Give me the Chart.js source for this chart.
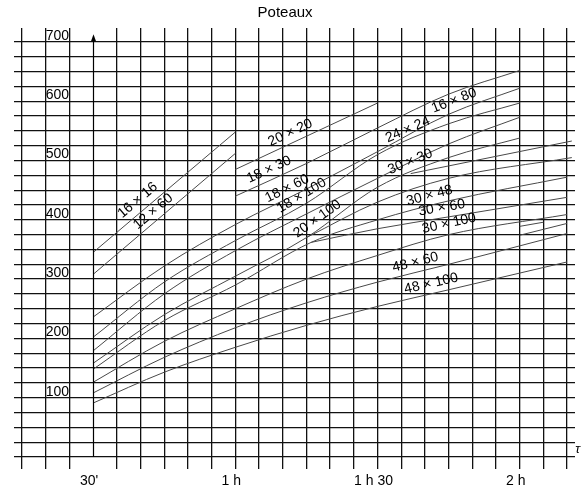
<!DOCTYPE html>
<html><head><meta charset="utf-8">
<script src="https://cdn.jsdelivr.net/npm/chart.js@4/dist/chart.umd.min.js"></script>
<style>html,body{margin:0;padding:0;background:#fff}#wrap{width:581px;height:490px}</style>
</head><body><div id="wrap"><canvas id="c" width="581" height="490"></canvas></div>
<script>
// ---- data (time in minutes) ----
const timeTicks = [30, 60, 90, 120];
const timeTickLabels = ["30'", "1 h", "1 h 30", "2 h"];
const loadTickLabels = [100, 200, 300, 400, 500, 600, 700];

const t_16x16 = [30, 60];                          const v_16x16 = [345, 548];
const t_12x60 = [30, 60];                          const v_12x60 = [308, 512];
const t_20x20 = [60, 90];                          const v_20x20 = [485, 597];
const t_18x30 = [60, 75, 90, 105, 120];            const v_18x30 = [440, 495, 555, 612, 652];
const t_16x80 = [30, 45, 60, 75, 90, 105, 120];    const v_16x80 = [236, 322, 392, 452, 515, 578, 622];
const t_24x24 = [30, 45, 60, 75, 90, 105, 120];    const v_24x24 = [202, 295, 365, 428, 510, 562, 597];
const t_mid = [30, 45, 60, 75, 90, 105, 120];      const v_mid = [179, 275, 348, 410, 470, 528, 573];
const t_30x30 = [30, 45, 60, 75, 90, 105, 120];    const v_30x30 = [158, 240, 305, 370, 455, 505, 538];
const t_30x30b = [97, 131];                        const v_30x30b = [478, 533];
const t_branch = [75, 90, 105, 131];               const v_branch = [370, 430, 470, 505];
const t_30x48 = [30, 45, 60, 76, 90, 105, 130];    const v_30x48 = [148, 230, 290, 362, 400, 432, 472];
const t_30x60 = [76, 90, 105, 130];               const v_30x60 = [362, 385, 405, 438];
const t_30x100 = [30, 45, 60, 75, 90, 105, 130];   const v_30x100 = [126, 195, 250, 300, 340, 375, 409];
const t_48x60 = [30, 45, 60, 75, 90, 105, 130];    const v_48x60 = [108, 168, 218, 260, 295, 325, 377];
const t_48x100 = [30, 45, 60, 75, 90, 105, 130];   const v_48x100 = [91, 143, 185, 222, 254, 282, 329];
const t_short1 = [120, 125];                       const v_short1 = [389, 396];
const t_short2 = [120, 130];                       const v_short2 = [374, 394];

const series = [
  ["16 × 16", t_16x16, v_16x16], ["12 × 60", t_12x60, v_12x60], ["20 × 20", t_20x20, v_20x20],
  ["18 × 30", t_18x30, v_18x30], ["16 × 80", t_16x80, v_16x80], ["24 × 24", t_24x24, v_24x24],
  ["mid", t_mid, v_mid], ["30 × 30", t_30x30, v_30x30], ["30 × 30 b", t_30x30b, v_30x30b],
  ["branch", t_branch, v_branch], ["30 × 48", t_30x48, v_30x48], ["30 × 60", t_30x60, v_30x60],
  ["30 × 100", t_30x100, v_30x100], ["48 × 60", t_48x60, v_48x60], ["48 × 100", t_48x100, v_48x100],
  ["short 1", t_short1, v_short1], ["short 2", t_short2, v_short2]
];
// label placement: [text, series index, time along curve, distance above the curve]
const labelPlacement = [
  ["16 × 16", 0, 40.9, 11], ["12 × 60", 1, 43.9, 9], ["20 × 20", 2, 72.5, 10], ["18 × 30", 3, 68, 10],
  ["18 × 60", 4, 71.8, 9], ["18 × 100", 5, 75, 9], ["20 × 100", 7, 78.4, 9], ["16 × 80", 4, 107, 11],
  ["24 × 24", 5, 97.3, 11], ["30 × 30", 7, 97.8, 11], ["30 × 48", 10, 101.5, 10], ["30 × 60", 11, 103.9, 10],
  ["30 × 100", 12, 105.6, 11], ["48 × 60", 13, 98.5, 10], ["48 × 100", 14, 101.8, 10]
];

const datasets = series.map(([name, t, v]) => ({
  label: name,
  data: t.map((x, i) => ({x, y: v[i]})),
  borderColor: '#484848', borderWidth: 1, pointRadius: 0, fill: false, cubicInterpolationMode: 'monotone'
}));

const FONT = '"Liberation Sans", Arial, Helvetica, sans-serif';

function valueAt(ts, vs, t) {
  let k = 0; while (k < ts.length - 2 && t > ts[k + 1]) k++;
  const f = (t - ts[k]) / (ts[k + 1] - ts[k]);
  return vs[k] + f * (vs[k + 1] - vs[k]);
}

const deco = {
  id: 'deco',
  afterDatasetsDraw(chart) {
    const ctx = chart.ctx, xs = chart.scales.x, ys = chart.scales.y;
    ctx.save();
    // y axis with arrow at 30'
    const ax = Math.round(xs.getPixelForValue(30)) + 0.5;
    const yb = ys.getPixelForValue(0), yt = ys.getPixelForValue(713);
    ctx.strokeStyle = '#000'; ctx.lineWidth = 1.2;
    ctx.beginPath(); ctx.moveTo(ax, yb); ctx.lineTo(ax, yt + 5); ctx.stroke();
    ctx.fillStyle = '#000';
    ctx.beginPath(); ctx.moveTo(ax, yt); ctx.lineTo(ax - 2.5, yt + 7); ctx.lineTo(ax + 2.5, yt + 7); ctx.closePath(); ctx.fill();
    // y labels inside plot
    ctx.font = '14px ' + FONT; ctx.textAlign = 'left'; ctx.textBaseline = 'bottom';
    const lx = xs.getPixelForValue(20);
    loadTickLabels.forEach(v => ctx.fillText(String(v), lx, ys.getPixelForValue(v) + 1));
    // x labels
    ctx.textAlign = 'center'; ctx.textBaseline = 'middle';
    timeTicks.forEach((t, i) => ctx.fillText(timeTickLabels[i], xs.getPixelForValue(t) - 4, chart.chartArea.bottom + 12));
    // tau
    ctx.font = 'italic 13px ' + FONT; ctx.textAlign = 'right';
    ctx.fillText('τ', chart.width - 1, ys.getPixelForValue(12));
    // curve labels
    ctx.font = '14px ' + FONT; ctx.textAlign = 'center'; ctx.textBaseline = 'middle';
    labelPlacement.forEach(([text, si, t, d]) => {
      const ts = series[si][1], vs = series[si][2];
      const px = xs.getPixelForValue(t), py = ys.getPixelForValue(valueAt(ts, vs, t));
      const p1x = xs.getPixelForValue(t - 3), p1y = ys.getPixelForValue(valueAt(ts, vs, t - 3));
      const p2x = xs.getPixelForValue(t + 3), p2y = ys.getPixelForValue(valueAt(ts, vs, t + 3));
      const ang = Math.atan2(p2y - p1y, p2x - p1x);
      ctx.save(); ctx.translate(px, py); ctx.rotate(ang); ctx.fillText(text, 0, -d); ctx.restore();
    });
    // title
    ctx.font = '15px ' + FONT; ctx.textAlign = 'center'; ctx.textBaseline = 'middle';
    ctx.fillText('Poteaux', xs.getPixelForValue(70.5), 13);
    ctx.restore();
  }
};

new Chart(document.getElementById('c'), {
  type: 'line',
  data: { datasets },
  options: {
    responsive: false, animation: false, events: [],
    layout: { padding: { left: 14, right: 6, top: 28, bottom: 21 } },
    plugins: { legend: { display: false }, tooltip: { enabled: false }, title: { display: false } },
    scales: {
      x: {
        type: 'linear', min: 13.31, max: 131.67,
        afterBuildTicks: s => { s.ticks = []; for (let t = 15; t <= 130; t += 5) s.ticks.push({ value: t }); },
        ticks: { display: false },
        grid: { color: c => (c.tick && c.tick.value === 30) ? 'rgba(0,0,0,0)' : '#111', lineWidth: 1.3, drawTicks: false },
        border: { display: false }
      },
      y: {
        type: 'linear', min: -20.24, max: 723.6,
        afterBuildTicks: s => { s.ticks = []; for (let v = 0; v <= 700; v += 25) s.ticks.push({ value: v }); },
        ticks: { display: false },
        grid: { color: '#111', lineWidth: 1.3, drawTicks: false },
        border: { display: false }
      }
    }
  },
  plugins: [deco]
});
</script></body></html>
